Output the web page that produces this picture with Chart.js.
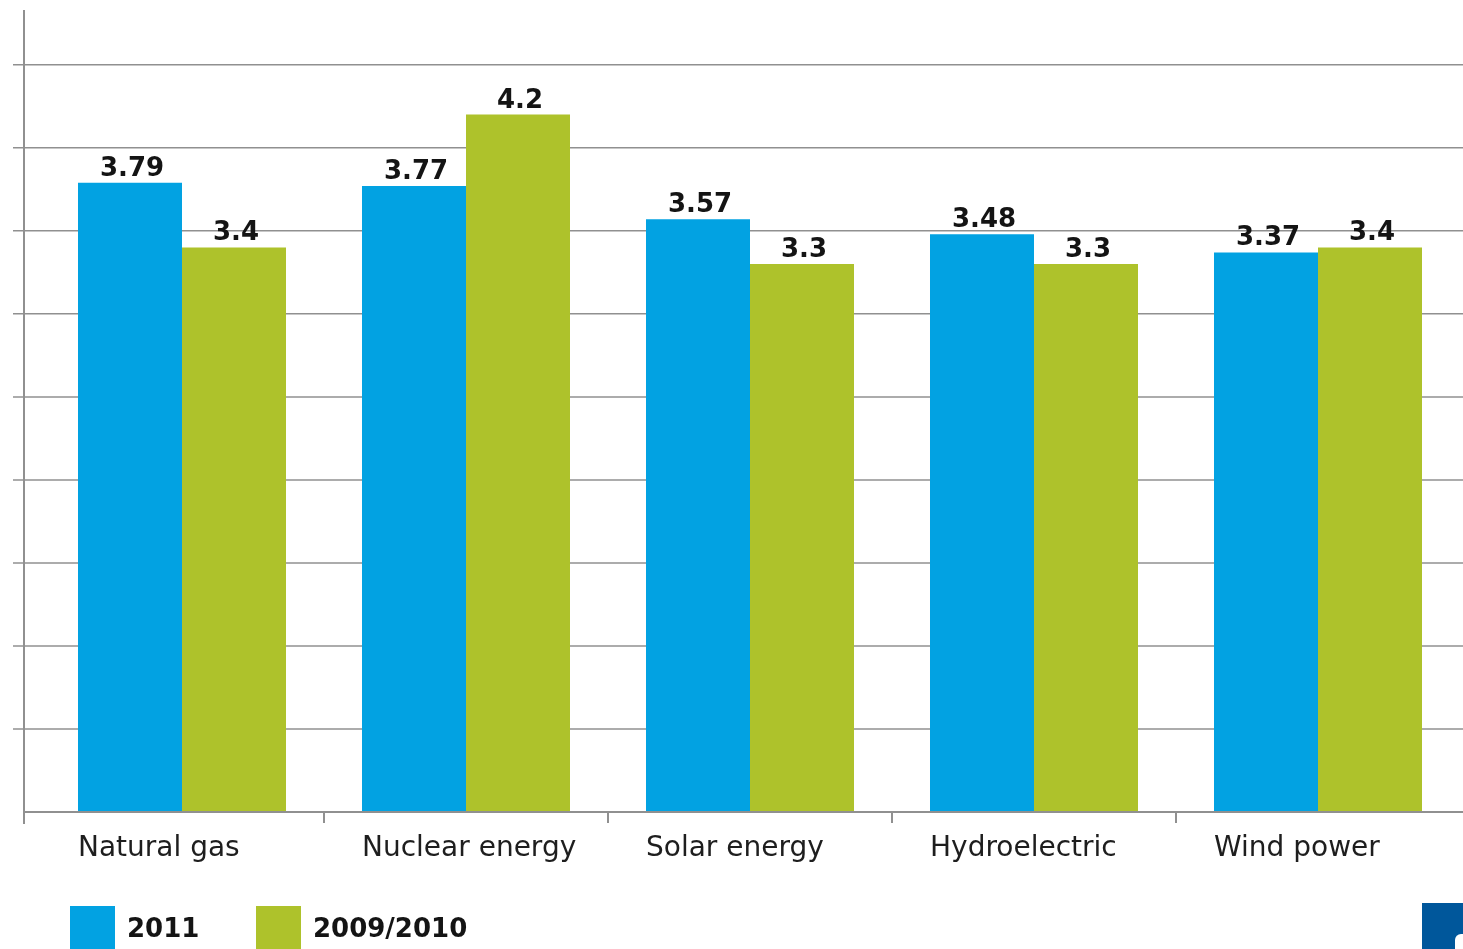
<!DOCTYPE html>
<html><head><meta charset="utf-8">
<script src="https://cdn.jsdelivr.net/npm/chart.js@4"></script>
<style>
html,body{margin:0;padding:0;background:#fff;overflow:hidden;}
#wrap{position:relative;width:1463px;height:949px;}
#badge{position:absolute;left:1422px;top:903px;width:41px;height:46px;background:#00579b;overflow:hidden;}
#badge div{position:absolute;left:33px;top:31px;width:30px;height:30px;background:#fff;border-radius:6px;}
</style></head><body>
<div id="wrap"><canvas id="c"></canvas><div id="badge"><div></div></div></div>
<script>
const categories = ['Natural gas', 'Nuclear energy', 'Solar energy', 'Hydroelectric', 'Wind power'];
const values2011 = [3.79, 3.77, 3.57, 3.48, 3.37];
const values2009 = [3.4, 4.2, 3.3, 3.3, 3.4];
const seriesNames = ['2011', '2009/2010'];
const gridValues = [0.5, 1, 1.5, 2, 2.5, 3, 3.5, 4, 4.5];

const FONT = "'DejaVu Sans', sans-serif";
const LINE = '#909090';

const decor = {
  id: 'decor',
  beforeDatasetsDraw(chart) {
    const { ctx, scales: { y } } = chart;
    ctx.save();
    ctx.strokeStyle = LINE;
    ctx.lineWidth = 1.5;
    gridValues.forEach(v => {
      const py = y.getPixelForValue(v);
      ctx.beginPath(); ctx.moveTo(13, py); ctx.lineTo(chart.width, py); ctx.stroke();
    });
    ctx.restore();
  },
  afterDatasetsDraw(chart) {
    const { ctx, chartArea, scales: { x, y } } = chart;
    ctx.save();
    ctx.strokeStyle = LINE;
    ctx.lineWidth = 2;
    const base = y.getPixelForValue(0);
    ctx.beginPath(); ctx.moveTo(24, base); ctx.lineTo(chart.width, base); ctx.stroke();
    ctx.beginPath(); ctx.moveTo(24, chartArea.top); ctx.lineTo(24, base + 12); ctx.stroke();
    for (let i = 0; i < categories.length - 1; i++) {
      const px = (x.getPixelForValue(i) + x.getPixelForValue(i + 1)) / 2;
      ctx.beginPath(); ctx.moveTo(px, base); ctx.lineTo(px, base + 11); ctx.stroke();
    }
    ctx.fillStyle = '#141414';
    ctx.font = "bold 26px " + FONT;
    ctx.textAlign = 'center';
    ctx.textBaseline = 'alphabetic';
    chart.data.datasets.forEach((ds, di) => {
      const meta = chart.getDatasetMeta(di);
      meta.data.forEach((el, i) => {
        ctx.fillText(String(ds.data[i]), el.x + 2, el.y - 7);
      });
    });
    ctx.restore();
  },
  afterDraw(chart) {
    const { ctx } = chart;
    ctx.save();
    const items = [{ box: 70, text: 127 }, { box: 256, text: 313 }];
    chart.data.datasets.forEach((ds, di) => {
      const it = items[di];
      ctx.fillStyle = ds.backgroundColor;
      ctx.fillRect(it.box, 906, 45, 50);
      ctx.fillStyle = '#141414';
      ctx.font = "bold 26px " + FONT;
      ctx.textAlign = 'left';
      ctx.textBaseline = 'alphabetic';
      ctx.fillText(ds.label, it.text, 937);
    });
    ctx.restore();
  }
};

new Chart(document.getElementById('c'), {
  type: 'bar',
  data: {
    labels: categories,
    datasets: [
      { label: seriesNames[0], data: values2011, backgroundColor: '#02a2e2' },
      { label: seriesNames[1], data: values2009, backgroundColor: '#aec22b' }
    ]
  },
  options: {
    responsive: true,
    maintainAspectRatio: false,
    animation: false,
    layout: { padding: { top: 10, right: 3, left: 0, bottom: 0 } },
    plugins: { legend: { display: false }, tooltip: { enabled: false } },
    datasets: { bar: { categoryPercentage: 0.7324, barPercentage: 1.0, borderWidth: 0 } },
    scales: {
      x: {
        offset: true,
        grid: { display: false },
        border: { display: false },
        ticks: { color: '#1e1e1e', font: { family: FONT, size: 28 }, padding: 12, maxRotation: 0, autoSkip: false, align: 'start', labelOffset: -104 },
        afterFit: s => { s.height = 137; s.paddingLeft = 0; s.paddingRight = 0; }
      },
      y: {
        min: 0, max: 4.83,
        grid: { display: false },
        border: { display: false },
        ticks: { display: false },
        afterFit: s => { s.width = 40; }
      }
    }
  },
  plugins: [decor]
});
</script>
</body></html>
